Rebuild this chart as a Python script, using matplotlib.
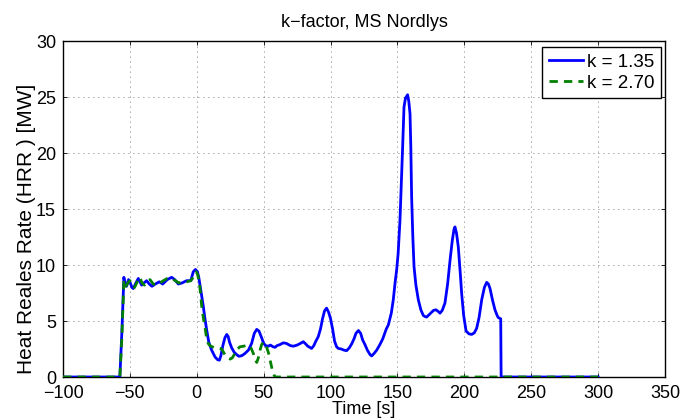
import numpy as np
import matplotlib
matplotlib.use('Agg')
import matplotlib.pyplot as plt

plt.rcParams['font.family'] = ['Liberation Sans', 'DejaVu Sans']

# k = 1.35 (tiempo [s], HRR [MW])
t_k135 = [-100, -57.5, -56, -54.5, -53.5, -52.5, -51, -50, -48.5, -47.5, -45.5, -43.7,
          -42.5, -41.2, -39.5, -37.5, -35.5, -33.5, -31, -28, -25.5, -22, -18.8, -16.5,
          -13.8, -11, -7.6, -4.5, -2.6, -1, 0.5, 1.5, 2.4, 3.5, 4.9, 6, 7.4, 9, 11.1,
          13.6, 15.5, 16.9, 18, 19.5, 21, 22.4, 23.5, 24.5, 26.1, 28, 29.8, 31.5, 33.6,
          36, 38.6, 41, 43, 44.8, 46.5, 48.5, 50, 51.5, 53.5, 55, 57, 58.5, 60, 62.3,
          64.7, 67, 70, 72.2, 75, 77.5, 79.6, 81, 83, 85.8, 87.5, 89, 90.8, 92.5, 94,
          95.5, 97, 98.5, 100, 101.5, 103, 104.5, 105.8, 108, 110, 112, 114, 116, 117.5,
          119, 120.8, 122.5, 124, 125.7, 127.5, 129.5, 130.7, 132.5, 134.5, 136.9, 139,
          141.7, 143.2, 145.4, 146.9, 148.3, 149.4, 150.5, 151.9, 153, 153.9, 154.9,
          156, 157.6, 158.5, 159.4, 160, 160.6, 161.5, 162.4, 163.8, 165.6, 167.5,
          169.3, 170.5, 171.8, 173.5, 175.6, 177, 178.8, 180.5, 181.8, 183.5, 185.5,
          187.5, 189.3, 191, 192.3, 193, 194.2, 195.5, 197, 198, 199.5, 201.3, 203.5,
          205.5, 207.5, 209.2, 211, 213, 215, 216.7, 218, 219.2, 221, 222.9, 224.5,
          225.4, 227.2, 227.5, 300]
hrr_k135 = [0, 0, 4.0, 8.9, 8.3, 8.1, 8.7, 8.5, 8.0, 7.9, 8.4, 8.8,
            8.5, 8.2, 8.4, 8.6, 8.3, 8.1, 8.3, 8.5, 8.3, 8.7, 8.9, 8.7,
            8.3, 8.4, 8.6, 8.6, 9.4, 9.6, 9.4, 8.9, 8.2, 7.4, 6.3, 5.3, 4.2, 3.1, 2.4,
            1.8, 1.55, 1.5, 1.9, 2.8, 3.5, 3.8, 3.6, 3.1, 2.6, 2.2, 2.0, 1.85, 1.9,
            2.1, 2.4, 3.0, 3.9, 4.25, 4.1, 3.5, 3.0, 2.8, 2.75, 2.85, 2.7, 2.65, 2.8, 2.9,
            3.05, 3.0, 2.8, 2.75, 2.85, 3.0, 3.15, 3.0, 2.75, 2.55, 2.8, 3.2, 3.6, 4.3, 5.2,
            5.9, 6.15, 5.8, 5.2, 4.3, 3.2, 2.7, 2.55, 2.5, 2.4, 2.35, 2.6, 3.0, 3.4,
            3.9, 4.15, 3.9, 3.3, 2.9, 2.4, 2.0, 1.88, 2.1, 2.4, 2.9, 3.4,
            4.3, 4.65, 5.7, 6.9, 8.5, 9.55, 11.0, 14.0, 17.5, 20.6, 24.1,
            24.9, 25.2, 24.6, 23.5, 20.5, 16.1, 12.5, 9.85, 8.2, 6.9, 6.0,
            5.5, 5.4, 5.35, 5.55, 5.8, 5.95, 6.0, 5.85, 5.7, 5.95, 6.6,
            8.3, 10.4, 12.2, 13.2, 13.4, 12.8, 11.6, 9.2, 7.45, 5.5, 4.1, 3.85,
            3.8, 3.95, 4.35, 5.3, 6.9, 8.0, 8.45, 8.3, 7.9, 6.9, 6.0, 5.5,
            5.3, 5.2, 0, 0]

# k = 2.70
t_k270 = [-100, -57.5, -56, -54.5, -53, -51.5, -50, -48.5, -46.5, -44.5, -42.5, -41,
          -39, -37, -35, -32.5, -30, -27.5, -25, -22, -19, -16, -13.5, -11, -7.5, -4.5,
          -2, -0.5, 0.5, 2, 3.7, 5, 6.2, 7.4, 8.5, 9.9, 11.5, 13.6, 16, 18.6, 21, 23,
          25, 26.5, 28.5, 30.5, 32.3, 35, 38.6, 40.5, 42.3, 43.5, 44.8, 46, 47.3, 48.5,
          49.8, 51.5, 53.5, 55, 56.5, 58, 59, 300]
hrr_k270 = [0, 0, 3.5, 8.6, 8.1, 8.4, 8.6, 8.2, 8.0, 8.5, 8.9, 8.4,
            8.2, 8.5, 8.7, 8.3, 8.2, 8.4, 8.6, 8.8, 8.8, 8.6, 8.4, 8.5, 8.5, 8.6,
            9.0, 9.4, 9.2, 8.4, 6.3, 5.2, 4.4, 3.4, 3.0, 2.8, 2.7, 2.6, 2.6, 2.5, 2.0, 1.7,
            1.6, 1.7, 2.1, 2.5, 2.7, 2.75, 2.85, 2.6, 2.1, 1.6, 1.3, 1.7, 2.4, 2.9,
            3.1, 2.9, 2.2, 1.4, 0.6, 0.1, 0, 0]

xticks = np.arange(-100, 351, 50)
yticks = np.arange(0, 31, 5)

fig = plt.figure(figsize=(6.83, 4.19), dpi=100)
ax = fig.add_axes([63/683, 42/419, 602/683, 336/419])

ax.plot(t_k135, hrr_k135, color=(0, 0, 1), lw=2.0, label='k = 1.35', zorder=3)
ax.plot(t_k270, hrr_k270, color=(0, 0.5, 0), lw=2.0, ls=(0, (3, 2.2)),
        label='k = 2.70', zorder=4)

ax.set_xlim(-100, 350)
ax.set_ylim(0, 30)
ax.set_xticks(xticks)
ax.set_yticks(yticks)
ax.grid(True, color='0.3', lw=0.6, ls=(0, (1, 5)))
ax.tick_params(direction='in', length=3, width=0.6, top=True, right=True,
               labelsize=13)
ax.tick_params(axis='x', pad=6)
ax.tick_params(axis='y', pad=5)
for s in ax.spines.values():
    s.set_linewidth(1.0)

ax.set_title('k\u2212factor, MS Nordlys', fontsize=13, pad=10)
ax.set_xlabel('Time [s]', fontsize=13, labelpad=-1)
ax.set_ylabel('Heat Reales Rate (HRR ) [MW]', fontsize=15)
ax.yaxis.set_label_coords(-0.045, 0.44)

leg = ax.legend(loc='upper right', bbox_to_anchor=(0.9934, 0.982), borderaxespad=0,
                fancybox=False, edgecolor='black', framealpha=1, fontsize=13.5,
                handlelength=1.85, handletextpad=0.2, borderpad=0.35, labelspacing=0.2)
leg.get_frame().set_linewidth(1.0)

plt.savefig('out.png', dpi=100)
